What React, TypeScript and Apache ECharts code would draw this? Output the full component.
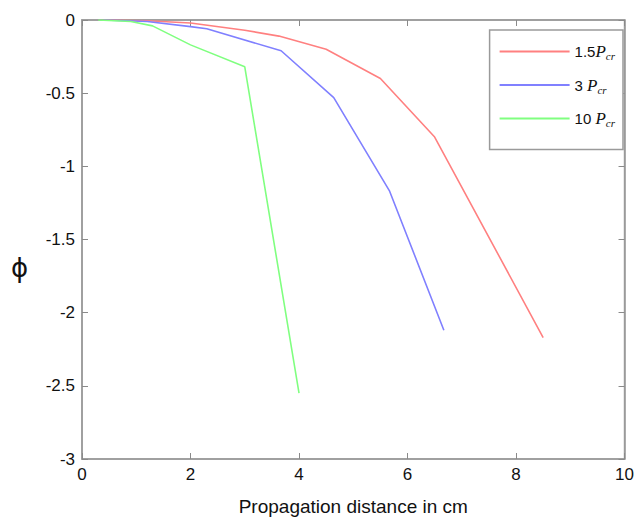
import React, { useEffect, useRef } from "react";
import * as echarts from "echarts";

const redX = [0.4, 1.2, 2.0, 3.0, 3.63, 4.5, 5.5, 6.5, 8.5];
const redY = [0, -0.005, -0.02, -0.07, -0.11, -0.2, -0.4, -0.8, -2.17];
const blueX = [0.4, 1.2, 2.0, 2.3, 3.67, 4.64, 5.67, 6.67];
const blueY = [0, -0.01, -0.045, -0.06, -0.21, -0.53, -1.17, -2.12];
const greenX = [0.3, 0.9, 1.3, 2.0, 3.0, 4.0];
const greenY = [0, -0.01, -0.04, -0.17, -0.32, -2.55];
const seriesNames = ["1.5P", "3 P", "10 P"];
const legendPrefix = ["1.5", "3 ", "10 "];
const xTicks = [0, 2, 4, 6, 8, 10];

const zip = (xs: number[], ys: number[]) => xs.map((x, i) => [x, ys[i]]);

export default function App() {
  const ref = useRef<HTMLDivElement>(null);
  useEffect(() => {
    const chart = echarts.init(ref.current!, null, { renderer: "svg" });
    const axisLine = () => ({ show: true, onZero: false, lineStyle: { color: "#9a9a9a", width: 1.5 } });
    const tick = () => ({ show: true, inside: true, length: 6, lineStyle: { color: "#8a8a8a", width: 1 } });
    const labelFont = () => ({ fontFamily: "Liberation Sans, Arial, sans-serif", fontSize: 17, color: "#111" });
    chart.setOption({
      animation: false,
      backgroundColor: "#fff",
      grid: { left: 82, right: 10, top: 20, bottom: 64, show: true, borderColor: "#9a9a9a", borderWidth: 1.5 },
      legend: {
        orient: "vertical",
        right: 14,
        top: 30,
        icon: "rect",
        itemWidth: 70,
        itemHeight: 2,
        itemGap: 15,
        padding: [13, 8, 21, 10],
        borderColor: "#9a9a9a",
        borderWidth: 1.5,
        borderRadius: 0,
        backgroundColor: "#fff",
        data: seriesNames,
        formatter: (name: string) => {
          const idx = seriesNames.indexOf(name);
          return `{n|${legendPrefix[idx]}}{p|P}{s|cr}`;
        },
        textStyle: {
          rich: {
            n: { fontFamily: "Liberation Sans Narrow, Liberation Sans, sans-serif", fontSize: 15, color: "#111" },
            p: { fontFamily: "Liberation Serif, serif", fontStyle: "italic", fontSize: 17, color: "#111" },
            s: { fontFamily: "Liberation Serif, serif", fontStyle: "italic", fontSize: 11, color: "#111", padding: [9, 0, 0, 0] },
          },
        },
      },
      graphic: [
        {
          type: "text",
          left: 11,
          top: 255,
          style: { text: "ϕ", fontFamily: "DejaVu Sans, sans-serif", fontSize: 26, fill: "#111" },
        },
      ],
      xAxis: [
        {
          type: "value",
          min: 0,
          max: 10,
          interval: 2,
          position: "bottom",
          axisLine: axisLine(),
          axisTick: tick(),
          splitLine: { show: false },
          axisLabel: { ...labelFont(), margin: 7, formatter: (v: number) => (xTicks.includes(v) ? String(v) : "") },
          name: "Propagation distance in cm",
          nameLocation: "middle",
          nameGap: 38,
          nameTextStyle: { ...labelFont(), fontSize: 19 },
        },
        {
          type: "value",
          min: 0,
          max: 10,
          interval: 2,
          position: "top",
          axisLine: axisLine(),
          axisTick: tick(),
          axisLabel: { show: false },
          splitLine: { show: false },
        },
      ],
      yAxis: [
        {
          type: "value",
          min: -3,
          max: 0,
          interval: 0.5,
          position: "left",
          axisLine: axisLine(),
          axisTick: tick(),
          splitLine: { show: false },
          axisLabel: { ...labelFont(), margin: 7 },
        },
        {
          type: "value",
          min: -3,
          max: 0,
          interval: 0.5,
          position: "right",
          axisLine: axisLine(),
          axisTick: tick(),
          axisLabel: { show: false },
          splitLine: { show: false },
        },
      ],
      series: [
        { name: seriesNames[0], type: "line", data: zip(redX, redY), symbol: "none", lineStyle: { color: "#ff8080", width: 1.6 }, itemStyle: { color: "#ff8080" } },
        { name: seriesNames[1], type: "line", data: zip(blueX, blueY), symbol: "none", lineStyle: { color: "#8080ff", width: 1.6 }, itemStyle: { color: "#8080ff" } },
        { name: seriesNames[2], type: "line", data: zip(greenX, greenY), symbol: "none", lineStyle: { color: "#80ff80", width: 1.6 }, itemStyle: { color: "#80ff80" } },
        { name: "frame", type: "line", xAxisIndex: 1, yAxisIndex: 1, data: zip(greenX.slice(0, 2), greenY.slice(0, 2)), symbol: "none", silent: true, lineStyle: { opacity: 0 } },
      ],
    });
    return () => chart.dispose();
  }, []);
  return <div ref={ref} style={{ width: 637, height: 523, position: "absolute", left: 0, top: 0 }} />;
}
